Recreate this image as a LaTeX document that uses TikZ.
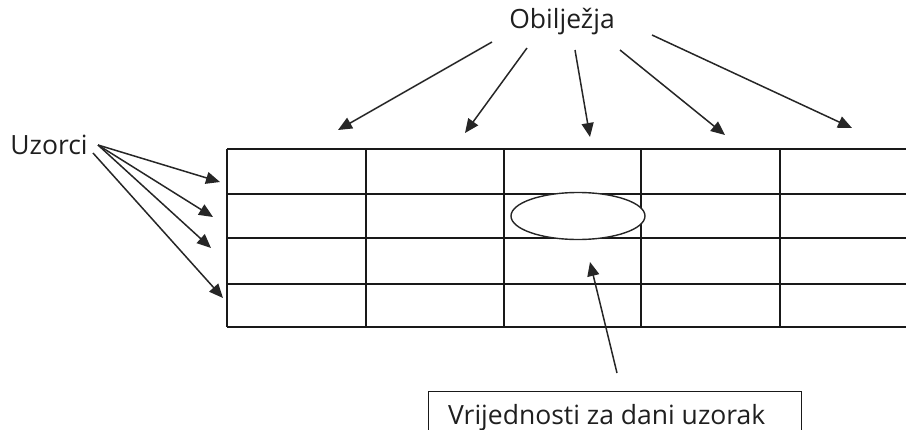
\documentclass[tikz,border=0pt]{standalone}
\usepackage{fontspec}
\setmainfont{Open Sans}
\usetikzlibrary{arrows.meta,shapes.geometric}
\begin{document}
\begin{tikzpicture}[x=1pt,y=-1pt,
  lbl/.style={inner sep=0pt,font=\fontsize{26.5}{30}\selectfont,text=black!88},
  grid/.style={line width=1.6pt,draw=black!90},
  arr/.style={line width=1.5pt,draw=black!85,-{Triangle[length=14pt,width=12pt]}}]
\useasboundingbox (0,0) rectangle (906,429);
% grid
\foreach \y in {149,194,238,284,327} \draw[grid] (227,\y) -- (906,\y);
\foreach \x in {227,366,504,641,780} \draw[grid] (\x,149) -- (\x,327);
% ellipse
\node[draw=black!85,ellipse,fill=white,line width=1.4pt,minimum width=134pt,minimum height=47pt,inner sep=0pt] (val) at (578,216) {};
% labels
\node[lbl] (obi) at (562,22) {Obilježja};
\node[lbl] (uzo) at (49,145) {Uzorci};
\node[draw=black!90,line width=1.4pt,minimum width=373pt,minimum height=60pt,anchor=north west,inner sep=0pt] (box) at (428,391) {};
\node[lbl,anchor=base west] (boxt) at (448,424) {Vrijednosti za dani uzorak};
% coordinates
\coordinate (o1) at (492,42); \coordinate (t1) at (338,130);
\coordinate (o2) at (527,48); \coordinate (t2) at (465,133);
\coordinate (o3) at (575,50); \coordinate (t3) at (590,137);
\coordinate (o4) at (620,50); \coordinate (t4) at (725,135);
\coordinate (o5) at (652,35); \coordinate (t5) at (852,128);
\coordinate (u1) at (98,145); \coordinate (u2) at (93,153);
\coordinate (s1) at (220,182); \coordinate (s2) at (213,217);
\coordinate (s3) at (211,248); \coordinate (s4) at (223,298);
\coordinate (b1) at (617,373); \coordinate (b2) at (590,262);
\foreach \i in {1,...,5} \draw[arr] (o\i) -- (t\i);
\draw[arr] (u1) -- (s1);
\draw[arr] (u1) -- (s2);
\draw[arr] (u1) -- (s3);
\draw[arr] (u2) -- (s4);
\draw[arr] (b1) -- (b2);
\end{tikzpicture}
\end{document}
